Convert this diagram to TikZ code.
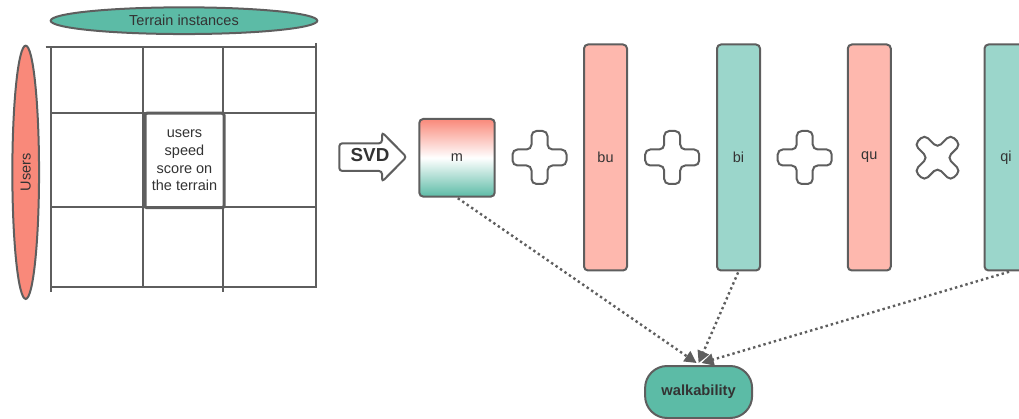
\documentclass[tikz,border=0pt]{standalone}
\usepackage{fontspec}
\setmainfont{Liberation Sans}
\usetikzlibrary{arrows.meta,shapes.geometric}
\definecolor{strokec}{HTML}{5E5E5E}
\definecolor{textc}{HTML}{333333}
\definecolor{tealc}{HTML}{5CBBA6}
\definecolor{salmonc}{HTML}{F9897A}
\definecolor{lsalmon}{HTML}{FEB8AE}
\definecolor{lteal}{HTML}{9BD6CB}
\tikzset{
  base/.style={text=textc, font=\fontsize{14.5}{17.6}\selectfont},
  gridline/.style={draw=strokec, line width=2pt},
  ell/.style={base, ellipse, draw=strokec, line width=2pt, inner sep=0pt},
  bar/.style={base, draw=strokec, line width=2pt, rounded corners=4pt, minimum width=43pt, minimum height=226pt, inner sep=0pt},
  opsign/.style={draw=strokec, line width=2pt, fill=white, rounded corners=5pt},
  dotarrow/.style={draw=strokec, line width=2.4pt, dash pattern=on 2.4pt off 3pt, -{Triangle[length=12pt,width=12pt]}, shorten <=1pt},
}
\begin{document}
\begin{tikzpicture}[x=1pt,y=-1pt]
\useasboundingbox (0,0) rectangle (1019,419);
\clip (0,0) rectangle (1019,419);
% ellipses
\node[ell, fill=tealc, minimum width=266.6pt, minimum height=26.7pt] (terrain) at (184,20.7) {Terrain instances};
\node[ell, fill=salmonc, rotate=90, minimum width=253.3pt, minimum height=26.7pt] (users) at (25.7,172.3) {Users};
% grid
\draw[gridline] (45.7,46.7) -- (316,46.7);
\draw[gridline] (51,113.3) -- (316,113.3);
\draw[gridline] (51,206.7) -- (316,206.7);
\draw[gridline] (50.7,286.7) -- (317,286.7);
\draw[gridline] (50.7,46.7) -- (50.7,292);
\draw[gridline] (143.3,46.7) -- (143.3,288.5);
\draw[gridline] (222.7,46.7) -- (222.7,291.7);
\draw[gridline] (316,43) -- (316,287);
\node[base, draw=strokec, line width=3pt, rounded corners=2pt, fill=white, minimum width=79pt, minimum height=94.5pt, align=center, inner sep=0pt] (cell) at (184.5,160.5) {users\\speed\\score on\\the terrain};
% SVD arrow
\draw[opsign, rounded corners=3pt] (339.3,143.3) -- (382,143.3) -- (382,132.3) -- (406.5,157) -- (382,181.7) -- (382,171) -- (339.3,171) -- cycle;
\node[text=textc, font=\fontsize{18.8}{20}\selectfont\bfseries] (svd) at (370,155) {SVD};
% m box
\node[base, draw=strokec, line width=2pt, rounded corners=4pt, top color=salmonc, bottom color=tealc, middle color=white, minimum width=75.4pt, minimum height=77.7pt, inner sep=0pt] (m) at (457,157.8) {m};
% bars
\node[bar, fill=lsalmon] (bu) at (605.5,157.5) {bu};
\node[bar, fill=lteal] (bi) at (738.5,157.5) {bi};
\node[bar, fill=lsalmon] (qu) at (869.3,157.5) {qu};
\node[bar, fill=lteal] (qi) at (1006,157.5) {qi};
% plus signs
\foreach \cx/\cy in {539.5/157.5, 672.2/157.5, 804.7/157.5}{
  \draw[opsign, shift={(\cx,\cy)}] (-8,-26.5) -- (8,-26.5) -- (8,-8) -- (27,-8) -- (27,8) -- (8,8) -- (8,26.5) -- (-8,26.5) -- (-8,8) -- (-27,8) -- (-27,-8) -- (-8,-8) -- cycle;
}
% cross sign
\draw[opsign, shift={(937.5,157.7)}, rotate=45] (-7,-25.5) -- (7,-25.5) -- (7,-7) -- (25.5,-7) -- (25.5,7) -- (7,7) -- (7,25.5) -- (-7,25.5) -- (-7,7) -- (-25.5,7) -- (-25.5,-7) -- (-7,-7) -- cycle;
% walkability
\node[draw=strokec, line width=2pt, fill=tealc, rounded corners=22pt, minimum width=107pt, minimum height=52pt, inner sep=0pt, text=textc, font=\fontsize{14.7}{17}\selectfont\bfseries] (walk) at (698.6,392) {walkability};
% connectors
\draw[dotarrow] (m.south) -- ([xshift=-2pt,yshift=2pt]walk.north);
\draw[dotarrow] (bi.south) -- ([xshift=0pt,yshift=2pt]walk.north);
\draw[dotarrow] ([xshift=4pt]qi.south) -- ([xshift=3pt,yshift=2pt]walk.north);
\end{tikzpicture}
\end{document}
